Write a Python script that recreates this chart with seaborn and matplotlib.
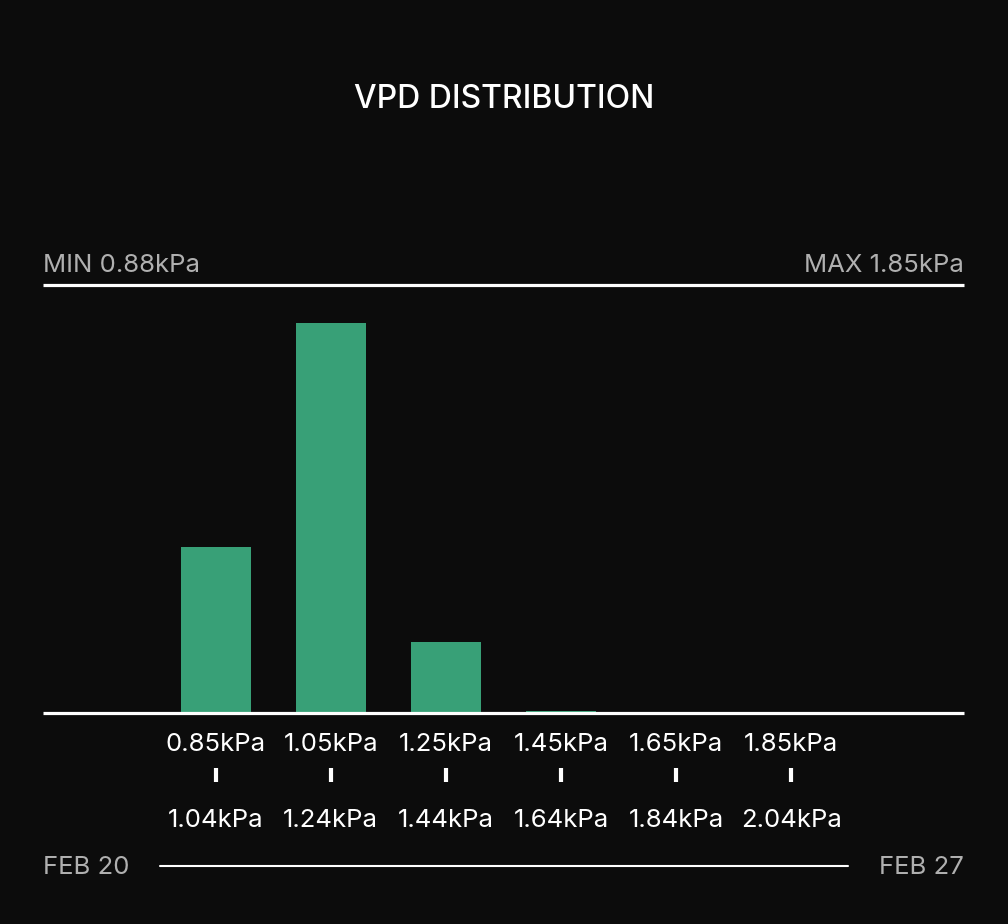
'''
VPD distribution histogram on a dark card
'''

import pandas as pd
import seaborn as sns
from matplotlib import pyplot as plt
from matplotlib.lines import Line2D

# data
bin_low = ["0.85kPa", "1.05kPa", "1.25kPa", "1.45kPa", "1.65kPa", "1.85kPa"]
bin_high = ["1.04kPa", "1.24kPa", "1.44kPa", "1.64kPa", "1.84kPa", "2.04kPa"]
share = [26.4, 62.0, 11.3, 0.3, 0.0, 0.0]
vpd_min = "0.88kPa"
vpd_max = "1.85kPa"
date_start = "FEB 20"
date_end = "FEB 27"

BG = "#0c0c0c"
GREEN = "#38a077"
GREY = "#b0b0b0"


def main():
    sns.set_theme(style="dark")
    plt.rcParams["font.family"] = ["Inter", "DejaVu Sans"]

    df = pd.DataFrame({"bin": bin_low, "share": share})

    fig = plt.figure(figsize=(10.08, 9.24), dpi=100, facecolor=BG)
    ax = fig.add_axes([43 / 1008, 1 - 713 / 924, 921 / 1008, 428 / 924])
    ax.set_facecolor(BG)

    sns.barplot(data=df, x="bin", y="share", order=bin_low, color=GREEN,
                width=0.61, saturation=1, linewidth=0, ax=ax)

    ax.set_xlim(-1.5, len(bin_low) + 0.5)
    ax.set_ylim(0, 68)
    ax.set_xticks([])
    ax.set_yticks([])
    ax.set_xlabel("")
    ax.set_ylabel("")
    ax.grid(False)
    for side in ["left", "right"]:
        ax.spines[side].set_visible(False)
    for side in ["top", "bottom"]:
        ax.spines[side].set_visible(True)
        ax.spines[side].set_color("white")
        ax.spines[side].set_linewidth(2.3)
        ax.spines[side].set_capstyle("butt")

    # bin edges under each bar
    trans = ax.get_xaxis_transform()
    for i, (lo, hi) in enumerate(zip(bin_low, bin_high)):
        ax.text(i, -0.074, lo, transform=trans, ha="center", va="center",
                color="white", fontsize=18.5)
        ax.plot([i, i], [-0.129, -0.161], transform=trans, color="white",
                lw=3, solid_capstyle="butt", clip_on=False)
        ax.text(i, -0.251, hi, transform=trans, ha="center", va="center",
                color="white", fontsize=18.5)

    # min / max over the top line
    ax.text(0, 1.046, "MIN " + vpd_min, transform=ax.transAxes, ha="left",
            va="center", color=GREY, fontsize=18.5)
    ax.text(1, 1.046, "MAX " + vpd_max, transform=ax.transAxes, ha="right",
            va="center", color=GREY, fontsize=18.5)

    fig.text(0.5, 1 - 99 / 924, "VPD DISTRIBUTION", ha="center", va="center",
             color="white", fontsize=23, fontweight="medium")

    # date range footer
    y_date = 1 - 867 / 924
    fig.text(43 / 1008, y_date, date_start, ha="left", va="center",
             color=GREY, fontsize=18.5)
    fig.text(964 / 1008, y_date, date_end, ha="right", va="center",
             color=GREY, fontsize=18.5)
    fig.add_artist(Line2D([160 / 1008, 848 / 1008], [1 - 866 / 924] * 2,
                          color="white", lw=1.5))

    fig.savefig("out.png", dpi=100, facecolor=BG)
    plt.close(fig)


if __name__ == "__main__":
    main()
